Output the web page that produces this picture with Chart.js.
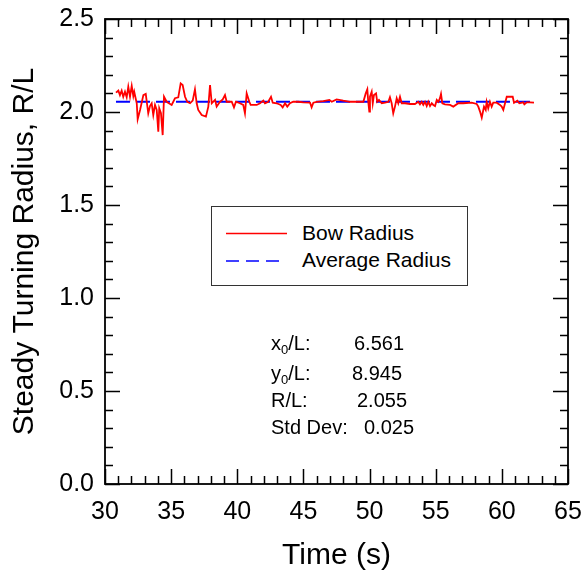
<!DOCTYPE html>
<html>
<head>
<meta charset="utf-8">
<script src="https://cdn.jsdelivr.net/npm/chart.js@4/dist/chart.umd.min.js"></script>
<style>
  html, body { margin: 0; padding: 0; background: #fff; }
  #wrap { position: relative; width: 586px; height: 577px; font-family: "Liberation Sans", Arial, sans-serif; color: #000; }
  canvas { position: absolute; left: 0; top: 0; }
  .abs { position: absolute; white-space: pre; line-height: 20px; }
  #legend { position: absolute; left: 211px; top: 206px; width: 257px; height: 80px; border: 1px solid #333; box-sizing: border-box; background: #fff; }
  .leg { font-size: 21px; }
  .st { font-size: 20px; }
  sub { font-size: 13px; vertical-align: -4px; line-height: 0; }
</style>
</head>
<body>
<div id="wrap">
  <canvas id="c" width="586" height="577"></canvas>
  <div id="legend"></div>
  <svg style="position:absolute;left:0;top:0" width="586" height="577">
    <line x1="226" y1="233.5" x2="287" y2="233.5" stroke="#ff0000" stroke-width="1.5"/>
    <line x1="226" y1="261" x2="282" y2="261" stroke="#0000ff" stroke-width="1.5" stroke-dasharray="13,7"/>
  </svg>
  <div class="abs leg" style="left:302px;top:223px">Bow Radius</div>
  <div class="abs leg" style="left:302px;top:250px">Average Radius</div>
  <div class="abs st" style="left:271px;top:333px">x<sub>0</sub>/L:</div>
  <div class="abs st" style="left:354px;top:333px">6.561</div>
  <div class="abs st" style="left:271px;top:363px">y<sub>0</sub>/L:</div>
  <div class="abs st" style="left:352px;top:363px">8.945</div>
  <div class="abs st" style="left:271px;top:390px">R/L:</div>
  <div class="abs st" style="left:357px;top:390px">2.055</div>
  <div class="abs st" style="left:271px;top:417px">Std Dev:</div>
  <div class="abs st" style="left:364px;top:417px">0.025</div>
</div>
<script>
// ---- data ----
const times = [30.83,31.01,31.13,31.26,31.38,31.51,31.64,31.76,31.89,32.02,32.14,32.21,32.40,32.47,32.65,32.90,33.08,33.27,33.40,33.53,
  33.65,33.78,33.91,34.03,34.10,34.23,34.36,34.46,34.66,35.04,35.29,35.54,35.72,35.87,36.05,36.22,36.43,36.63,36.80,36.93,
  37.05,37.31,37.63,37.81,37.94,38.07,38.32,38.44,38.69,38.90,39.07,39.20,39.58,39.75,39.90,40.20,40.45,40.58,40.71,40.91,
  41.01,41.47,41.72,41.97,42.09,42.34,42.55,42.68,42.98,43.28,43.43,43.61,43.78,43.98,44.23,44.61,44.99,45.50,45.62,45.75,
  46.00,46.50,46.96,47.14,47.51,48.01,48.52,49.03,49.53,49.71,49.83,49.90,49.98,50.03,50.16,50.24,50.33,50.49,50.58,50.71,
  50.92,51.17,51.42,51.54,51.67,51.79,51.92,52.05,52.17,52.30,52.43,52.68,53.06,53.43,53.68,53.81,53.94,54.06,54.19,54.32,
  54.44,54.57,54.70,54.82,54.95,55.08,55.20,55.32,55.40,55.50,55.70,56.08,56.33,56.71,57.08,57.72,58.10,58.22,58.35,58.48,
  58.65,58.78,58.85,58.97,59.10,59.23,59.35,59.61,59.86,59.99,60.11,60.24,60.37,60.56,60.82,60.92,61.17,61.32,61.62,61.70,
  61.88,62.13,62.43];
const bowRadius = [2.104,2.115,2.091,2.115,2.082,2.109,2.079,2.136,2.082,2.140,2.086,2.109,2.047,1.961,2.011,2.091,2.097,1.993,2.032,2.047,
  1.984,2.038,2.011,1.894,2.020,1.993,1.876,2.082,2.055,2.038,2.074,2.079,2.154,2.145,2.082,2.055,2.047,2.061,2.122,2.047,
  2.011,1.984,1.975,2.029,2.145,2.047,2.065,2.029,2.055,2.068,2.091,2.055,2.055,2.025,2.055,2.047,2.038,1.993,2.100,2.055,
  2.038,2.038,2.047,2.061,2.047,2.055,2.082,2.050,2.047,2.038,2.025,2.047,2.029,2.047,2.055,2.055,2.052,2.050,2.025,2.050,
  2.055,2.059,2.065,2.055,2.068,2.061,2.055,2.055,2.055,2.100,2.122,2.055,2.002,2.082,2.109,2.047,2.091,2.100,2.055,2.065,
  2.047,2.050,2.055,2.079,2.047,1.993,2.029,2.074,2.047,2.082,2.047,2.047,2.043,2.043,2.055,2.041,2.055,2.038,2.055,2.032,
  2.055,2.032,2.047,2.038,2.032,2.065,2.055,2.074,2.097,2.047,2.041,2.038,2.029,2.047,2.047,2.050,2.043,2.029,2.002,1.969,
  2.029,2.011,2.055,2.020,2.055,2.029,2.050,2.050,2.038,2.029,2.011,2.047,2.082,2.082,2.082,2.050,2.061,2.047,2.052,2.041,
  2.052,2.052,2.050];
const avgTimes = [30.83, 62.43];
const avgRadius = [2.055, 2.055];
const xTickValues = [30, 35, 40, 45, 50, 55, 60, 65];
const yTickValues = [0.0, 0.5, 1.0, 1.5, 2.0, 2.5];

const FONT = '"Liberation Sans", Arial, sans-serif';

const frameTicks = {
  id: 'frameTicks',
  afterDraw(chart) {
    const { ctx, chartArea: a, scales: { x, y } } = chart;
    ctx.save();
    ctx.strokeStyle = '#000';
    ctx.lineWidth = 1.5;
    ctx.beginPath();
    for (let v = x.min; v <= x.max + 1e-9; v += 1) {
      const px = Math.round(x.getPixelForValue(v)) + 0.5;
      const major = Math.abs(v / 5 - Math.round(v / 5)) < 1e-9;
      const L = major ? 15 : 8;
      ctx.moveTo(px, a.bottom); ctx.lineTo(px, a.bottom - L);
      ctx.moveTo(px, a.top); ctx.lineTo(px, a.top + L);
    }
    for (let i = 0; i <= 25; i++) {
      const v = i / 10;
      const py = Math.round(y.getPixelForValue(v)) + 0.5;
      const major = i % 5 === 0;
      const L = major ? 15 : 8;
      ctx.moveTo(a.left, py); ctx.lineTo(a.left + L, py);
      ctx.moveTo(a.right, py); ctx.lineTo(a.right - L, py);
    }
    ctx.stroke();
    ctx.lineWidth = 1.8;
    ctx.strokeRect(a.left, a.top, a.right - a.left, a.bottom - a.top);
    ctx.restore();
  }
};

new Chart(document.getElementById('c'), {
  type: 'line',
  data: {
    datasets: [
      {
        label: 'Bow Radius',
        data: times.map((t, i) => ({ x: t, y: bowRadius[i] })),
        borderColor: '#ff0000',
        borderWidth: 1.8,
        pointRadius: 0,
        tension: 0
      },
      {
        label: 'Average Radius',
        data: avgTimes.map((t, i) => ({ x: t, y: avgRadius[i] })),
        borderColor: '#0000ff',
        borderWidth: 2.2,
        borderDash: [14, 6],
        pointRadius: 0
      }
    ]
  },
  options: {
    responsive: false,
    animation: false,
    layout: { padding: { left: 0, right: 18, top: 19, bottom: 0 } },
    plugins: { legend: { display: false }, tooltip: { enabled: false } },
    scales: {
      x: {
        type: 'linear',
        min: 30, max: 65,
        afterBuildTicks: (s) => { s.ticks = xTickValues.map(v => ({ value: v })); },
        afterFit: (s) => { s.height = 93; s.paddingLeft = 0; s.paddingRight = 0; },
        grid: { display: false, drawTicks: false },
        border: { display: false },
        ticks: { color: '#000', font: { family: FONT, size: 25 }, padding: 13, maxRotation: 0, autoSkip: false },
        title: { display: true, text: 'Time (s)', color: '#000', font: { family: FONT, size: 30 }, padding: { top: 0, bottom: 3 } }
      },
      y: {
        min: 0, max: 2.5,
        afterBuildTicks: (s) => { s.ticks = yTickValues.map(v => ({ value: v })); },
        afterFit: (s) => { s.width = 105; s.paddingTop = 0; s.paddingBottom = 0; },
        grid: { display: false, drawTicks: false },
        border: { display: false },
        ticks: { color: '#000', font: { family: FONT, size: 25 }, padding: 11, callback: (v) => Number(v).toFixed(1) },
        title: { display: true, text: 'Steady Turning Radius, R/L', color: '#000', font: { family: FONT, size: 30 }, padding: { top: 7, bottom: 0 } }
      }
    }
  },
  plugins: [frameTicks]
});
</script>
</body>
</html>
